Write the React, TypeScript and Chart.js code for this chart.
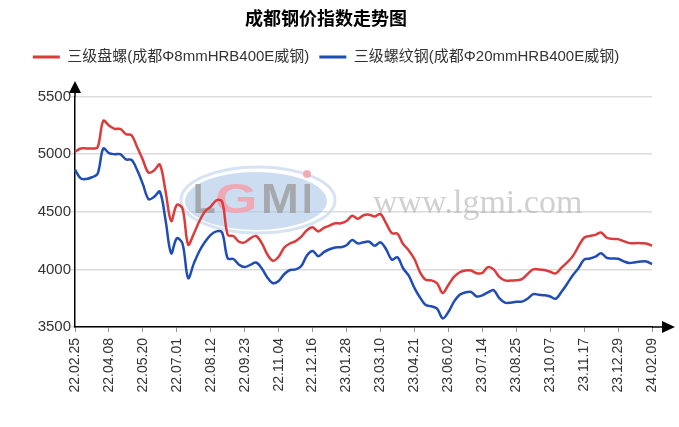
import { useEffect, useRef } from "react";
import { Chart, registerables } from "chart.js";

Chart.register(...registerables);

const TITLE = "成都钢价指数走势图";
const SERIES_NAMES = ["三级盘螺(成都Φ8mmHRB400E威钢)", "三级螺纹钢(成都Φ20mmHRB400E威钢)"];

const CATEGORIES = [
  "22.02.25", "22.03.04", "22.03.11", "22.03.18", "22.03.25", "22.04.01", "22.04.08", "22.04.15", "22.04.22", "22.04.29",
  "22.05.06", "22.05.13", "22.05.20", "22.05.27", "22.06.03", "22.06.10", "22.06.17", "22.06.24", "22.07.01", "22.07.08",
  "22.07.15", "22.07.22", "22.07.29", "22.08.05", "22.08.12", "22.08.19", "22.08.26", "22.09.02", "22.09.09", "22.09.16",
  "22.09.23", "22.09.30", "22.10.07", "22.10.14", "22.10.21", "22.10.28", "22.11.04", "22.11.11", "22.11.18", "22.11.25",
  "22.12.02", "22.12.09", "22.12.16", "22.12.23", "22.12.30", "23.01.06", "23.01.13", "23.01.20", "23.01.28", "23.02.03",
  "23.02.10", "23.02.17", "23.02.24", "23.03.03", "23.03.10", "23.03.17", "23.03.24", "23.03.31", "23.04.07", "23.04.14",
  "23.04.21", "23.04.28", "23.05.05", "23.05.12", "23.05.19", "23.05.26", "23.06.02", "23.06.09", "23.06.16", "23.06.23",
  "23.06.30", "23.07.07", "23.07.14", "23.07.21", "23.07.28", "23.08.04", "23.08.11", "23.08.18", "23.08.25", "23.09.01",
  "23.09.08", "23.09.15", "23.09.22", "23.09.28", "23.10.07", "23.10.13", "23.10.20", "23.10.27", "23.11.03", "23.11.10",
  "23.11.17", "23.11.24", "23.12.01", "23.12.08", "23.12.15", "23.12.22", "23.12.29", "24.01.05", "24.01.12", "24.01.19",
  "24.01.26", "24.02.02", "24.02.09",
];

const TICK_LABELS = [
  "22.02.25", "22.04.08", "22.05.20", "22.07.01", "22.08.12", "22.09.23", "22.11.04", "22.12.16", "23.01.28",
  "23.03.10", "23.04.21", "23.06.02", "23.07.14", "23.08.25", "23.10.07", "23.11.17", "23.12.29", "24.02.09",
];

const RED_VALUES = [
  5020, 5050, 5050, 5050, 5060, 5290, 5250, 5220, 5220, 5175,
  5165, 5060, 4950, 4840, 4860, 4910, 4680, 4420, 4560, 4530,
  4215, 4310, 4420, 4505, 4545, 4600, 4590, 4300, 4290, 4240,
  4235, 4270, 4290, 4230, 4130, 4075, 4110, 4190, 4225, 4245,
  4285, 4340, 4365, 4330, 4360, 4380, 4400, 4400, 4420, 4465,
  4440, 4470, 4475, 4460, 4480, 4400, 4315, 4310, 4220, 4165,
  4090, 3975, 3910, 3905, 3880, 3795, 3865, 3935, 3975, 3990,
  3990, 3967, 3970, 4020, 4000, 3935, 3905, 3903, 3905, 3915,
  3960, 4000, 4000, 3995, 3980, 3965, 4015, 4060, 4115, 4200,
  4275, 4290, 4300, 4320, 4275, 4265, 4263, 4245, 4228, 4228,
  4228, 4225, 4205,
];

const BLUE_VALUES = [
  4865, 4790, 4785, 4800, 4830, 5050, 5010, 5000, 5000, 4955,
  4950, 4860, 4740, 4610, 4630, 4675, 4430, 4140, 4270, 4225,
  3925, 4050, 4160, 4240, 4300, 4330, 4320, 4095, 4090, 4040,
  4020, 4040, 4060, 4010, 3930, 3880, 3900, 3960, 3995, 4000,
  4030, 4120, 4160, 4115, 4150, 4175, 4190, 4193, 4210, 4255,
  4225, 4235, 4240, 4205, 4235, 4175, 4085, 4105, 4010, 3945,
  3840, 3755, 3690, 3680, 3660, 3575, 3630, 3720, 3780, 3800,
  3805, 3765, 3775, 3800, 3820, 3750, 3712, 3711, 3720, 3720,
  3745, 3785, 3780, 3775, 3765, 3745, 3805, 3875, 3950, 4010,
  4085, 4095, 4110, 4140, 4100, 4095, 4092, 4070, 4055, 4062,
  4068, 4068, 4045,
];

const Y_MIN = 3500;
const Y_MAX = 5500;
const Y_STEP = 500;

const FONT = '"Liberation Sans", "Noto Sans CJK SC", Arial, sans-serif';

const drawLetter = (ctx: any, ch: string, x: number, sx: number, color: string) => {
  ctx.save();
  ctx.translate(x, 213);
  ctx.scale(sx, 1);
  ctx.fillStyle = color;
  ctx.fillText(ch, 0, 0);
  ctx.restore();
};

const watermarkPlugin = {
  id: "watermark",
  beforeDatasetsDraw(chart: any) {
    const ctx = chart.ctx;
    ctx.save();
    ctx.beginPath();
    ctx.ellipse(258, 200, 77, 33, 0, 0, Math.PI * 2);
    ctx.strokeStyle = "rgba(205,220,240,0.8)";
    ctx.lineWidth = 3;
    ctx.stroke();
    ctx.beginPath();
    ctx.ellipse(256, 201, 71, 29, 0, 0, Math.PI * 2);
    ctx.fillStyle = "rgba(170,198,234,0.6)";
    ctx.fill();
    ctx.font = 'bold 42px "Liberation Sans", Arial, sans-serif';
    ctx.textBaseline = "alphabetic";
    ctx.textAlign = "left";
    const gray = "rgba(160,160,160,0.85)";
    const pink = "rgba(245,160,170,0.85)";
    drawLetter(ctx, "L", 193, 0.88, gray);
    drawLetter(ctx, "G", 215, 1.3, pink);
    drawLetter(ctx, "M", 261, 1.08, gray);
    drawLetter(ctx, "I", 302, 0.9, gray);
    ctx.beginPath();
    ctx.arc(307, 174, 4, 0, Math.PI * 2);
    ctx.fillStyle = pink;
    ctx.fill();
    ctx.font = '34px "Liberation Serif", "DejaVu Serif", serif';
    ctx.fillStyle = "rgba(170,170,170,0.55)";
    ctx.fillText("www.lgmi.com", 373, 213);
    ctx.restore();
  },
};

const arrowPlugin = {
  id: "arrows",
  afterDraw(chart: any) {
    const { ctx, chartArea } = chart;
    const left = chartArea.left;
    const bottom = chartArea.bottom;
    ctx.save();
    ctx.strokeStyle = "#000";
    ctx.fillStyle = "#000";
    ctx.lineWidth = 1.5;
    ctx.beginPath();
    ctx.moveTo(left, chartArea.top);
    ctx.lineTo(left, 92);
    ctx.moveTo(chartArea.right, bottom);
    ctx.lineTo(663, bottom);
    ctx.stroke();
    ctx.beginPath();
    ctx.moveTo(left, 81);
    ctx.lineTo(left - 6, 93);
    ctx.lineTo(left + 6, 93);
    ctx.closePath();
    ctx.fill();
    ctx.beginPath();
    ctx.moveTo(675, bottom);
    ctx.lineTo(662, bottom - 6);
    ctx.lineTo(662, bottom + 6);
    ctx.closePath();
    ctx.fill();
    ctx.restore();
  },
};

export default function App() {
  const canvasRef = useRef<HTMLCanvasElement | null>(null);

  useEffect(() => {
    if (!canvasRef.current) return;
    const chart = new Chart(canvasRef.current, {
      type: "line",
      data: {
        labels: CATEGORIES,
        datasets: [
          {
            label: SERIES_NAMES[0],
            data: RED_VALUES,
            borderColor: "#dc3b3b",
            backgroundColor: "#dc3b3b",
            borderWidth: 2.5,
            pointRadius: 0,
            tension: 0.35,
            fill: false,
          },
          {
            label: SERIES_NAMES[1],
            data: BLUE_VALUES,
            borderColor: "#1f4db5",
            backgroundColor: "#1f4db5",
            borderWidth: 2.5,
            pointRadius: 0,
            tension: 0.35,
            fill: false,
          },
        ],
      },
      options: {
        responsive: false,
        animation: false,
        layout: { padding: { left: 0, right: 27, top: 0, bottom: 0 } },
        plugins: {
          title: {
            display: true,
            text: TITLE,
            color: "#000",
            font: { size: 18, weight: "bold", family: FONT },
            padding: { top: 9, bottom: 9 },
          },
          subtitle: {
            display: true,
            text: "",
            font: { size: 10, family: FONT, lineHeight: 1 },
            padding: { top: 5, bottom: 7 },
            weight: 1000,
          } as any,
          legend: {
            display: true,
            position: "top",
            weight: 1800,
            labels: {
              boxWidth: 27,
              boxHeight: 3,
              padding: 10,
              color: "#333",
              font: { size: 15, family: FONT },
              generateLabels(c: any) {
                const items = (Chart.defaults.plugins.legend.labels as any).generateLabels(c);
                return items.map((it: any) => ({ ...it, lineWidth: 0 }));
              },
            },
          } as any,
          tooltip: { enabled: false },
        },
        scales: {
          x: {
            type: "category",
            offset: false,
            grid: {
              display: true,
              drawOnChartArea: false,
              drawTicks: true,
              tickLength: 5,
              color: "#999",
            },
            border: { display: true, color: "#000", width: 1.5 },
            ticks: {
              autoSkip: false,
              maxRotation: 90,
              minRotation: 90,
              padding: 6,
              color: "#333",
              font: { size: 14, family: FONT },
              callback: (_v: any, i: number) =>
                TICK_LABELS.includes(CATEGORIES[i]) ? CATEGORIES[i] : null,
            },
            afterFit: (s: any) => {
              s.height = 100;
            },
          },
          y: {
            min: Y_MIN,
            max: Y_MAX,
            grid: { color: "#dcdcdc", lineWidth: 1.5, tickLength: 4 },
            border: { display: true, color: "#000", width: 1.5 },
            ticks: {
              stepSize: Y_STEP,
              padding: 0,
              color: "#333",
              font: { size: 15, family: FONT },
              callback: (v: any) => String(v),
            },
            afterFit: (s: any) => {
              s.width = 75;
            },
          },
        },
      } as any,
      plugins: [watermarkPlugin, arrowPlugin],
    });
    return () => chart.destroy();
  }, []);

  return (
    <div style={{ position: "fixed", left: 0, top: 0, width: 679, height: 427, background: "#fff" }}>
      <canvas ref={canvasRef} width={679} height={427} style={{ display: "block" }} />
    </div>
  );
}
